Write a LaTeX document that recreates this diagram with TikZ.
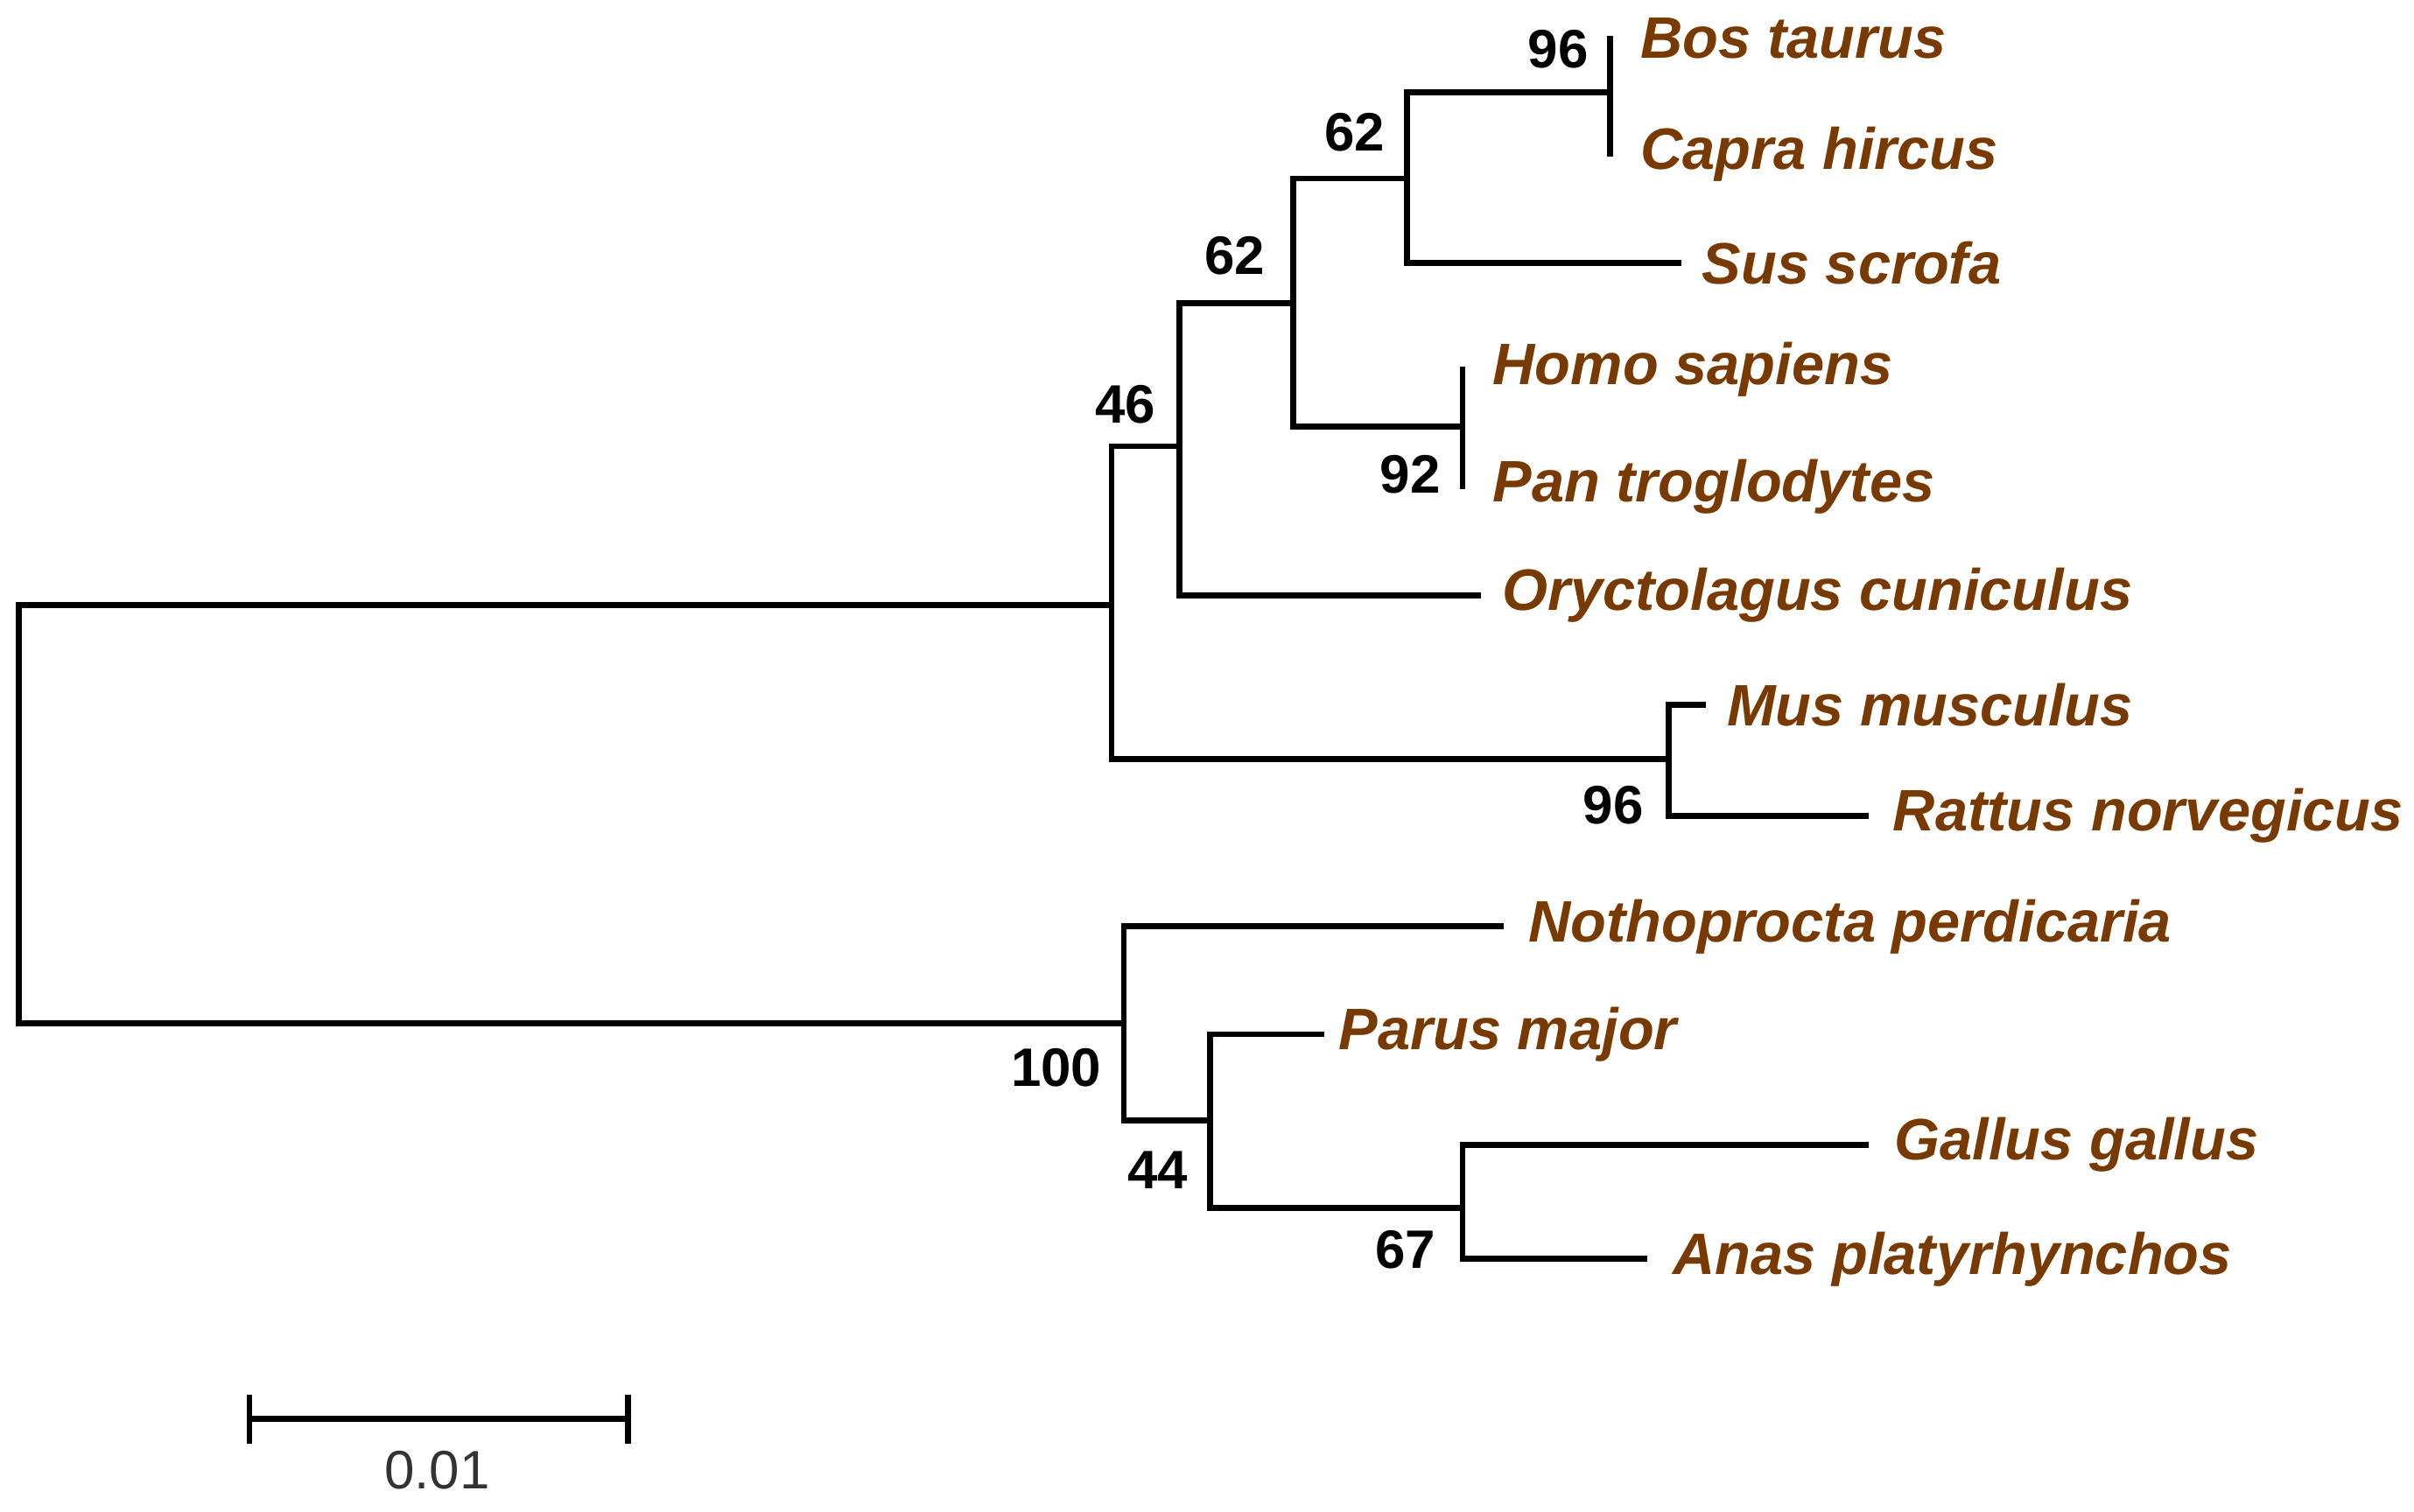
\documentclass[tikz,border=0pt]{standalone}
\usepackage{fontspec}
\setmainfont{Liberation Sans}
\definecolor{taxon}{RGB}{120,58,0}
\begin{document}
\begin{tikzpicture}[x=0.01cm,y=-0.01cm,
  branch/.style={line width=1.1pt, line cap=rect},
  species/.style={anchor=west, text=taxon, font=\fontsize{10.8}{13}\selectfont\bfseries\itshape, inner sep=0pt},
  boot/.style={font=\fontsize{10}{12}\selectfont\bfseries, inner sep=0pt}]
\useasboundingbox (0,0) rectangle (1568,982);
% internal nodes
\coordinate (root) at (12,393);
\coordinate (mam) at (722,393);
\coordinate (n46) at (766,290);
\coordinate (n62a) at (840,197);
\coordinate (n62b) at (914,116);
\coordinate (n96a) at (1046,60);
\coordinate (n92) at (950,277);
\coordinate (n96b) at (1084,493);
\coordinate (bird) at (730,665);
\coordinate (n44) at (786,728);
\coordinate (n67) at (950,785);
% tips
\coordinate (bos) at (1046,25);
\coordinate (cap) at (1046,100);
\coordinate (sus) at (1090,171);
\coordinate (hom) at (950,240);
\coordinate (pan) at (950,316);
\coordinate (ory) at (960,387);
\coordinate (mus) at (1106,458);
\coordinate (rat) at (1212,530);
\coordinate (not) at (975,602);
\coordinate (par) at (858,672);
\coordinate (gal) at (1212,744);
\coordinate (ana) at (1068,818);
% branches
\draw[branch] (mam) -- (root) |- (bird);
\draw[branch] (n46 -| mam) -- (mam |- n96b);
\draw[branch] (n46 -| mam) -- (n46);
\draw[branch] (n62a -| n46) -- (ory -| n46) -- (ory);
\draw[branch] (mam |- n96b) -- (n96b);
\draw[branch] (n62a) -- (n62a -| n46);
\draw[branch] (n62b -| n62a) -- (n92 -| n62a) -- (n92);
\draw[branch] (n62b) -- (n62b -| n62a);
\draw[branch] (n96a -| n62b) -- (sus -| n62b) -- (sus);
\draw[branch] (n96a) -- (n96a -| n62b);
\draw[branch] (bos) -- (cap);
\draw[branch] (hom) -- (pan);
\draw[branch] (mus) -- (mus -| n96b) -- (rat -| n96b) -- (rat);
\draw[branch] (not) -- (not -| bird) -- (n44 -| bird) -- (n44);
\draw[branch] (par) -- (par -| n44) -- (n67 -| n44) -- (n67);
\draw[branch] (gal) -- (gal -| n67) -- (ana -| n67) -- (ana);
% taxa
\node[species] at ([xshift=0.19cm]bos) {Bos taurus};
\node[species] at ([xshift=0.19cm]cap) {Capra hircus};
\node[species] at ([xshift=0.15cm]sus) {Sus scrofa};
\node[species] at ([xshift=0.19cm]hom) {Homo sapiens};
\node[species] at ([xshift=0.19cm]pan) {Pan troglodytes};
\node[species] at ([xshift=0.15cm]ory) {Oryctolagus cuniculus};
\node[species] at ([xshift=0.15cm]mus) {Mus musculus};
\node[species] at ([xshift=0.17cm]rat) {Rattus norvegicus};
\node[species] at ([xshift=0.17cm]not) {Nothoprocta perdicaria};
\node[species] at ([xshift=0.11cm]par) {Parus major};
\node[species] at ([xshift=0.18cm]gal) {Gallus gallus};
\node[species] at ([xshift=0.18cm]ana) {Anas platyrhynchos};
% bootstrap values
\node[boot] (b96a) at (1012,32) {96};
\node[boot] (b62b) at (880,86) {62};
\node[boot] (b62a) at (802,166) {62};
\node[boot] (b46) at (731,263) {46};
\node[boot] (b92) at (916,308) {92};
\node[boot] (b96b) at (1048,523) {96};
\node[boot] (b100) at (686,694) {100};
\node[boot] (b44) at (752,760) {44};
\node[boot] (b67) at (913,812) {67};
% scale bar
\coordinate (sl) at (162,922);
\coordinate (sr) at (408,922);
\draw[branch] (sl) -- (sr);
\draw[branch] ([yshift=0.14cm]sl) -- ([yshift=-0.14cm]sl);
\draw[branch] ([yshift=0.14cm]sr) -- ([yshift=-0.14cm]sr);
\node[font=\fontsize{10}{12}\selectfont, text=black!80] (sc) at (284,955) {0.01};
\end{tikzpicture}
\end{document}
